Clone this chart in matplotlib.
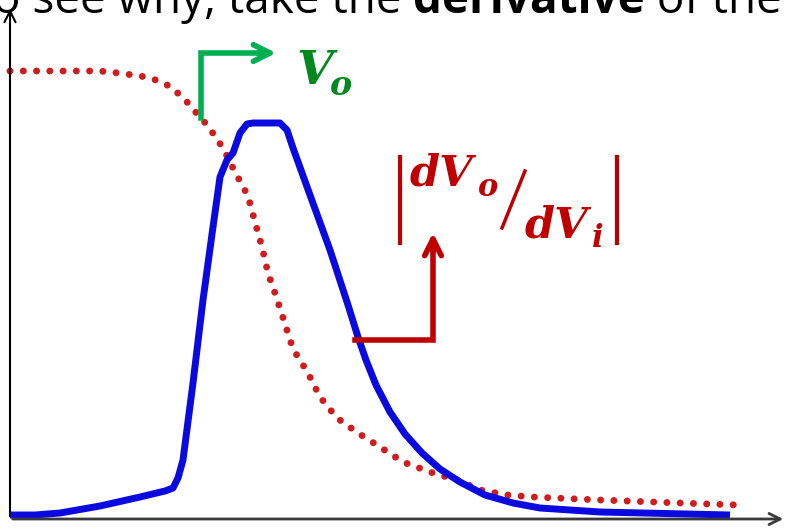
import matplotlib.pyplot as plt

# transfer curve Vo(Vi), in pixel units measured from the top-left corner
vo_x = [10, 60, 100, 118, 133, 146, 159, 171, 181, 190, 198, 208, 223, 235, 248,
        255, 262, 268, 277, 285, 293, 308, 320, 337, 358, 380, 403, 430, 457, 480,
        507, 533, 600, 680, 738]
vo_y = [71, 71, 71, 73, 75, 77, 81, 87, 96, 105, 115, 126, 148, 172, 196,
        222, 247, 273, 299, 324, 349, 373, 397, 418, 433, 447, 462, 472, 480, 490,
        495, 497, 500, 503, 505]

# gain magnitude |dVo/dVi|
gain_x = [10, 35, 60, 100, 140, 165, 173, 178, 183, 193, 203, 213, 220, 227, 233,
          240, 247, 253, 280, 287, 293, 310, 330, 348, 358, 366, 376, 390, 405,
          422, 440, 460, 485, 513, 540, 600, 730]
gain_y = [515, 515, 513, 506, 497, 491, 488, 478, 460, 383, 300, 227, 177, 160, 153,
          133, 124, 123, 123, 130, 148, 195, 250, 305, 337, 360, 385, 412, 434,
          453, 469, 482, 495, 503, 508, 512, 515]

W, H = 786, 529
fig = plt.figure(figsize=(W / 100, H / 100), dpi=100)
ax = fig.add_axes([0, 0, 1, 1])
ax.set_xlim(0, W)
ax.set_ylim(H, 0)
ax.axis('off')

# axes with arrow heads
ax.annotate('', xy=(10, 6), xytext=(10, 519),
            arrowprops=dict(arrowstyle='->', lw=1.5, color='black', mutation_scale=20))
ax.annotate('', xy=(W, 519), xytext=(10, 519),
            arrowprops=dict(arrowstyle='->', lw=2, color='#3a3a3a', mutation_scale=20))

ax.plot(vo_x, vo_y, color='#d01c1c', lw=5, linestyle=(0, (0.01, 1.9)),
        dash_capstyle='round')
ax.plot(gain_x, gain_y, color='#0a0ae0', lw=5, solid_capstyle='butt',
        solid_joinstyle='round')

# green pointer to Vo
green = '#00b050'
ax.plot([201, 201, 265], [118, 53, 53], color=green, lw=4, solid_joinstyle='miter')
ax.annotate('', xy=(279, 53), xytext=(255, 53),
            arrowprops=dict(arrowstyle='->', lw=4, color=green, mutation_scale=30))
ax.text(296, 84, 'V', color='#008a1e', fontsize=34, family='DejaVu Serif',
        weight='bold', style='italic')
ax.text(330, 95, 'o', color='#008a1e', fontsize=24, family='DejaVu Serif',
        weight='bold', style='italic')

# red pointer to |dVo/dVi|
red = '#c00000'
ax.plot([355, 433, 433], [340, 340, 250], color=red, lw=4, solid_joinstyle='miter')
ax.annotate('', xy=(433, 230), xytext=(433, 255),
            arrowprops=dict(arrowstyle='->', lw=4, color=red, mutation_scale=30))
ax.plot([400, 400], [157, 243], color=red, lw=3)
ax.plot([617, 617], [157, 243], color=red, lw=3)
ax.text(410, 186, 'dV', color=red, fontsize=31, family='DejaVu Serif',
        weight='bold', style='italic')
ax.text(478, 196, 'o', color=red, fontsize=22, family='DejaVu Serif',
        weight='bold', style='italic')
ax.plot([502, 525], [228, 171], color=red, lw=2.5)
ax.text(525, 238, 'dV', color=red, fontsize=31, family='DejaVu Serif',
        weight='bold', style='italic')
ax.text(592, 247, 'i', color=red, fontsize=22, family='DejaVu Serif',
        weight='bold', style='italic')

# slide sentence cut at the top edge
base = 13
t = ax.text(-7, base, 'o see why, take the ', fontsize=33, family='Open Sans',
            color='black', va='baseline')
fig.canvas.draw()
x1 = ax.transData.inverted().transform(t.get_window_extent().p1)[0]
t2 = ax.text(x1, base, 'derivative', fontsize=33, family='Open Sans',
             weight='bold', color='black', va='baseline')
fig.canvas.draw()
x2 = ax.transData.inverted().transform(t2.get_window_extent().p1)[0]
ax.text(x2, base, ' of the', fontsize=33, family='Open Sans',
        color='black', va='baseline')

fig.savefig('out.png', dpi=100)
